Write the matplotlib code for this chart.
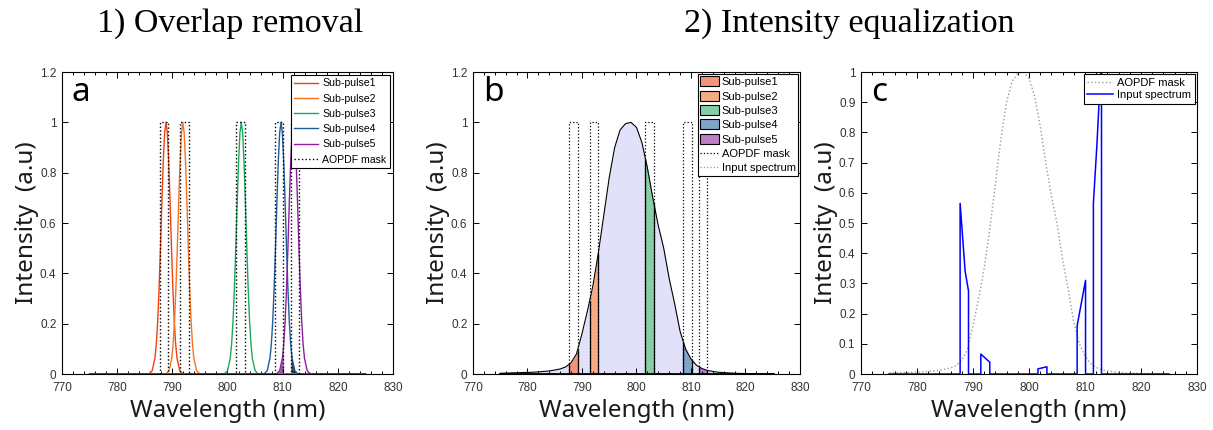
import numpy as np
import matplotlib
matplotlib.use('Agg')
import matplotlib.pyplot as plt
from matplotlib.ticker import MultipleLocator
from matplotlib.patches import Patch
from matplotlib.lines import Line2D

# AOPDF mask windows (nm)
mask_lo = [787.7, 791.4, 801.6, 808.6, 811.5]
mask_hi = [789.2, 793.0, 803.2, 810.1, 813.0]

# sub-pulse peaks (panel a) and the common pulse profile
pulse_names = ['Sub-pulse1', 'Sub-pulse2', 'Sub-pulse3', 'Sub-pulse4', 'Sub-pulse5']
pulse_center = [788.85, 791.9, 802.5, 809.7, 811.95]
prof_off = [-3.5, -3.0, -2.5, -2.0, -1.75, -1.5, -1.25, -1.0, -0.75, -0.5, -0.25, 0.0,
            0.25, 0.5, 0.75, 1.0, 1.25, 1.5, 1.75, 2.0, 2.5, 3.0, 3.5]
prof_val = [0.0, 0.002, 0.013, 0.063, 0.12, 0.21, 0.34, 0.50, 0.68, 0.84, 0.957, 1.0,
            0.957, 0.84, 0.68, 0.50, 0.34, 0.21, 0.12, 0.063, 0.013, 0.002, 0.0]

# input spectrum
spec_wl = [775, 778, 781, 784, 786, 787, 788, 789, 790, 791, 792, 793, 794, 795, 796,
           797, 798, 799, 800, 801, 802, 803, 804, 805, 806, 807, 808, 809, 810, 811,
           812, 813, 815, 818, 822, 825]
spec_val = [0.003, 0.005, 0.007, 0.012, 0.02, 0.028, 0.045, 0.08, 0.16, 0.25, 0.35, 0.48,
            0.63, 0.78, 0.90, 0.97, 0.995, 1.0, 0.98, 0.92, 0.82, 0.70, 0.59, 0.50, 0.38,
            0.28, 0.17, 0.10, 0.06, 0.035, 0.022, 0.014, 0.007, 0.003, 0.001, 0.0]

# equalized (panel c) blue trace
c_wl = [775, 787.7, 787.7, 788.6, 789.2, 789.2, 791.4, 791.4, 793.0, 793.0, 801.6, 801.6,
        803.2, 803.2, 808.6, 808.6, 809.3, 810.1, 810.1, 811.5, 811.5, 812.1, 812.8, 812.95,
        812.95, 825]
c_val = [0, 0, 0.565, 0.34, 0.275, 0, 0, 0.066, 0.039, 0, 0, 0.017,
         0.024, 0, 0, 0.16, 0.23, 0.31, 0, 0, 0.565, 0.75, 1.0, 1.05,
         0, 0]

line_cols = ['#f2400f', '#f7731e', '#1aaa5c', '#1f5c9c', '#8c1f9c']
fill_cols = ['#f4927c', '#f7ab83', '#86cfa6', '#80a5ca', '#bb80c5']
lavender = '#e1e1fa'

plt.rcParams['font.family'] = ['Liberation Sans', 'DejaVu Sans']

fig = plt.figure(figsize=(12.13, 4.30), dpi=100)
ax_a = fig.add_axes([0.0511, 0.1302, 0.2729, 0.7023])
ax_b = fig.add_axes([0.3899, 0.1302, 0.2696, 0.7023])
ax_c = fig.add_axes([0.7098, 0.1302, 0.2770, 0.7023])

mask_x, mask_y = [775], [0]
for lo, hi in zip(mask_lo, mask_hi):
    mask_x += [lo, lo, hi, hi]
    mask_y += [0, 1, 1, 0]
mask_x.append(825); mask_y.append(0)

lab_font = dict(family='Noto Sans', fontsize=17.5, color='#1a1a1a')


def style(ax, ymax, ystep, letter, bold=False):
    ax.set_xlim(770, 830)
    ax.set_ylim(0, ymax)
    ax.xaxis.set_major_locator(MultipleLocator(10))
    ax.xaxis.set_minor_locator(MultipleLocator(2))
    ax.yaxis.set_major_locator(MultipleLocator(ystep))
    ax.tick_params(which='both', direction='in', top=True, right=True,
                   labelsize=8.5, labelcolor='#333333', width=0.7)
    ax.tick_params(which='major', length=4)
    ax.tick_params(which='minor', length=2)
    ax.tick_params(axis='x', pad=6)
    ax.tick_params(axis='y', pad=4)
    ax.yaxis.set_major_formatter(plt.FuncFormatter(lambda v, p: ('%.1f' % v).rstrip('0').rstrip('.')))
    for s in ax.spines.values():
        s.set_linewidth(0.8)
    ax.set_xlabel('Wavelength (nm)', labelpad=3, **lab_font)
    ax.set_ylabel('Intensity  (a.u)', labelpad=1, **lab_font)
    ax.text(0.03, 0.905, letter, transform=ax.transAxes, fontsize=24,
            family='Noto Sans', fontweight='bold' if bold else 'normal', va='baseline')


leg_kw = dict(loc='upper right', fancybox=False, edgecolor='black', framealpha=1)

# ---- panel a ----
for k in range(5):
    x = [775] + [pulse_center[k] + o for o in prof_off] + [825]
    y = [0] + prof_val + [0]
    ax_a.plot(x, y, color=line_cols[k], lw=1.0, label=pulse_names[k])
# overlap parts
x4 = np.array([pulse_center[4] + o for o in prof_off]); y4 = np.array(prof_val)
sel = (x4 >= mask_lo[3] - 1e-6) & (x4 <= mask_hi[3] + 1e-6)
ax_a.fill_between(np.r_[mask_lo[3] + 0.9, x4[sel], mask_hi[3]],
                  np.r_[0, y4[sel], np.interp(mask_hi[3], x4, y4)],
                  color=line_cols[4], alpha=0.8, lw=0)
x3 = np.array([pulse_center[3] + o for o in prof_off]); y3 = np.array(prof_val)
sel = (x3 >= mask_lo[4]) & (x3 <= mask_hi[4])
ax_a.fill_between(np.r_[mask_lo[4], x3[sel]],
                  np.r_[np.interp(mask_lo[4], x3, y3), y3[sel]],
                  color='#1b2c4a', alpha=0.9, lw=0)
ax_a.plot(mask_x, mask_y, color='black', ls=':', lw=1.0, label='AOPDF mask')
style(ax_a, 1.2, 0.2, 'a')
leg = ax_a.legend(fontsize=7.6, handlelength=2.3, labelspacing=0.5, borderpad=0.3,
                  handletextpad=0.4, borderaxespad=0.3, **leg_kw)
leg.get_frame().set_linewidth(0.8)

# ---- panel b ----
sw = np.array(spec_wl, float); sv = np.array(spec_val, float)
ax_b.fill_between(sw, sv, color=lavender, lw=0)
for k in range(5):
    lo, hi = mask_lo[k], mask_hi[k]
    inner = (sw > lo) & (sw < hi)
    xs = np.r_[lo, sw[inner], hi]
    ys = np.r_[np.interp(lo, sw, sv), sv[inner], np.interp(hi, sw, sv)]
    ax_b.fill_between(xs, ys, color=fill_cols[k], lw=0)
    ax_b.vlines([lo, hi], 0, [ys[0], ys[-1]], color='black', lw=0.9)
ax_b.plot(mask_x, mask_y, color='black', ls=':', lw=0.9)
ax_b.plot(sw, sv, color='black', lw=0.8)
ax_b.plot([775, 825], [0, 0], color='black', lw=2)
style(ax_b, 1.2, 0.2, 'b')
h_b = [Patch(facecolor=fill_cols[k], edgecolor='black', lw=0.8) for k in range(5)]
h_b += [Line2D([], [], color='black', ls=':', lw=0.9), Line2D([], [], color='#999999', ls=':', lw=0.9)]
leg = ax_b.legend(h_b, pulse_names + ['AOPDF mask', 'Input spectrum'], fontsize=8,
                  handlelength=1.7, handleheight=1.0, labelspacing=0.32, borderpad=0.25,
                  handletextpad=0.2, borderaxespad=0.15, **leg_kw)
leg.get_frame().set_linewidth(0.8)

# ---- panel c ----
ax_c.plot(sw, sv, color='#9a9a9a', ls=':', lw=1.0, label='AOPDF mask')
ax_c.plot(c_wl, c_val, color='#0000ff', lw=1.1, label='Input spectrum')
style(ax_c, 1.0, 0.1, 'c', bold=True)
leg = ax_c.legend(fontsize=8, handlelength=2.3, labelspacing=0.25, borderpad=0.3,
                  handletextpad=0.4, borderaxespad=0.2, **leg_kw)
leg.get_frame().set_linewidth(0.8)

fig.text(0.19, 0.925, '1) Overlap removal', family='Liberation Serif', fontsize=24.5,
         ha='center', va='baseline')
fig.text(0.70, 0.925, '2) Intensity equalization', family='Liberation Serif', fontsize=24.5,
         ha='center', va='baseline')

fig.savefig('out.png', dpi=100)
